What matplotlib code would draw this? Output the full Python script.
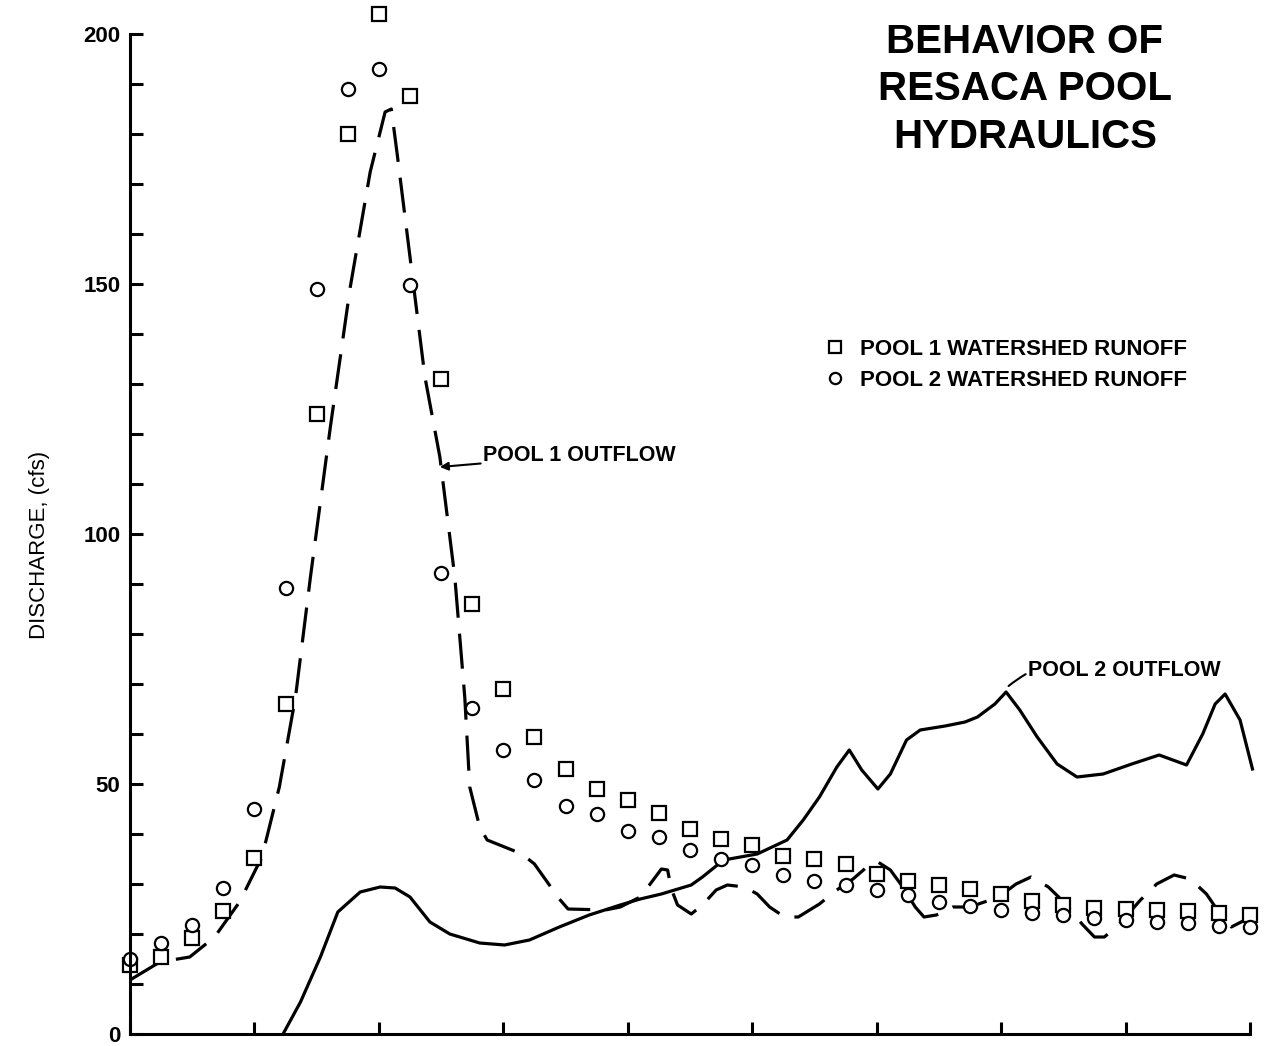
import matplotlib
matplotlib.use('Agg')
import matplotlib.pyplot as plt

# runoff points, every quarter tick from 0 to 9
runoff_x = [i * 0.25 for i in range(37)]
pool1_runoff = [13.8, 15.4, 19.2, 24.6, 35.2, 66, 124, 180, 204, 187.6, 131, 86, 69,
                59.4, 53, 49, 46.8, 44.2, 41, 39, 37.8, 35.6, 35, 34, 32, 30.6, 29.8,
                29, 28, 26.6, 25.8, 25.2, 25, 24.8, 24.6, 24.2, 23.8]
pool2_runoff = [15, 18.2, 21.8, 29.2, 45, 89.2, 149, 189, 193, 149.8, 92.2, 65.2, 56.8,
                50.8, 45.6, 44, 40.6, 39.4, 36.8, 35, 33.8, 31.8, 30.6, 29.8, 28.8, 27.8,
                26.4, 25.6, 24.8, 24.2, 23.8, 23.2, 22.8, 22.4, 22.2, 21.6, 21.4]

# pool 1 outflow (dashed)
out1_x = [0.0, 0.24, 0.48, 0.68, 0.88, 1.06, 1.2, 1.33, 1.45, 1.61, 1.77, 1.93, 2.05, 2.1,
          2.15, 2.25, 2.37, 2.49, 2.61, 2.69, 2.73, 2.81, 2.87, 3.15, 3.25, 3.45, 3.52,
          3.82, 3.94, 4.1, 4.18, 4.27, 4.32, 4.35, 4.4, 4.51, 4.6, 4.71, 4.8, 4.94, 5.04,
          5.14, 5.26, 5.37, 5.54, 5.68, 5.81, 5.94, 6.01, 6.11, 6.21, 6.31, 6.38, 6.48,
          6.61, 6.75, 6.98, 7.12, 7.24, 7.38, 7.52, 7.65, 7.75, 7.83, 7.95, 8.12, 8.25,
          8.39, 8.52, 8.65, 8.76, 8.85, 8.96, 9.02]
out1_y = [10.8, 14.4, 15.4, 19.4, 26.4, 35.4, 49.4, 67.4, 91.4, 121.4, 149.4, 172.4, 184.4,
          185, 175.4, 155.4, 131.4, 115.4, 91.4, 67.4, 49.4, 41.4, 38.8, 36, 34, 27, 25,
          24.8, 25.4, 27.4, 30, 33, 32.8, 29, 25.8, 24, 25.8, 28.8, 29.8, 29.4, 28, 25.4,
          23.4, 23.4, 26, 28.8, 31, 33.8, 34.4, 32.8, 29.4, 25.4, 23.4, 23.8, 25.4, 25.4,
          27.4, 30, 31.4, 29.4, 26, 22, 19.4, 19.4, 22, 26.8, 30, 31.8, 31, 28, 24, 21.4,
          22.8, 23.4]

# pool 2 outflow (solid)
out2_x = [1.23, 1.37, 1.53, 1.67, 1.85, 2.01, 2.13, 2.25, 2.41, 2.57, 2.81, 3.01, 3.21,
          3.45, 3.69, 3.94, 4.1, 4.27, 4.51, 4.6, 4.77, 5.04, 5.28, 5.41, 5.54, 5.68, 5.78,
          5.88, 6.01, 6.11, 6.24, 6.35, 6.55, 6.71, 6.81, 6.95, 7.04, 7.15, 7.29, 7.45,
          7.61, 7.82, 8.05, 8.27, 8.49, 8.62, 8.72, 8.8, 8.92, 9.02]
out2_y = [0, 6.4, 15.4, 24.4, 28.4, 29.4, 29.2, 27.4, 22.4, 20, 18.2, 17.8, 18.8, 21.4,
          23.8, 25.8, 27, 28, 29.8, 31.4, 34.8, 36, 38.8, 42.8, 47.4, 53.4, 56.8, 52.8, 49,
          52, 58.8, 60.8, 61.6, 62.4, 63.4, 66, 68.4, 64.8, 59.4, 54, 51.4, 52, 54, 55.8,
          53.8, 60, 66, 68, 62.8, 53]

y_ticks = list(range(0, 201, 10))
y_labels = [str(v) if v % 50 == 0 else '' for v in y_ticks]
x_ticks = list(range(0, 10))

plt.rcParams['font.family'] = ['Liberation Sans', 'DejaVu Sans']

fig = plt.figure(figsize=(12.74, 10.46), dpi=100)
ax = fig.add_axes([130 / 1274, 12 / 1046, 1120 / 1274, 1027 / 1046])

ax.plot(out1_x, out1_y, color='black', lw=2.3, linestyle=(0, (11, 5)), clip_on=False)
ax.plot(out2_x, out2_y, color='black', lw=2.3, clip_on=False)
ax.plot(runoff_x, pool1_runoff, linestyle='none', marker='s', ms=10, mfc='white',
        mec='black', mew=1.6, clip_on=False, label='POOL 1 WATERSHED RUNOFF')
ax.plot(runoff_x, pool2_runoff, linestyle='none', marker='o', ms=9.5, mfc='white',
        mec='black', mew=1.6, clip_on=False, label='POOL 2 WATERSHED RUNOFF')

ax.set_xlim(0, 9)
ax.set_ylim(0, 205.4)
for s in ['top', 'right']:
    ax.spines[s].set_visible(False)
ax.spines['left'].set_bounds(0, 200)
ax.spines['bottom'].set_bounds(0, 9)
ax.spines['left'].set_linewidth(2.2)
ax.spines['bottom'].set_linewidth(2.2)

ax.set_yticks(y_ticks)
ax.set_yticklabels(y_labels, fontsize=16, fontweight='bold')
ax.set_xticks(x_ticks)
ax.set_xticklabels([])
ax.tick_params(direction='in', length=9, width=2.2, pad=7)

fig.text(40 / 1274, 1 - 545 / 1046, 'DISCHARGE, (cfs)', rotation=90, fontsize=16,
         ha='center', va='center')

ax.annotate('POOL 1 OUTFLOW', xy=(2.49, 113.4), xytext=(2.84, 115.8), fontsize=15.5,
            fontweight='bold', va='center', ha='left',
            arrowprops=dict(arrowstyle='-|>', color='black', lw=1.5, mutation_scale=12,
                            shrinkA=0, shrinkB=0))
ax.annotate('POOL 2 OUTFLOW', xy=(7.06, 69.6), xytext=(7.22, 72.8), fontsize=15.5,
            fontweight='bold', va='center', ha='left',
            arrowprops=dict(arrowstyle='-', color='black', lw=1.5, shrinkA=0, shrinkB=0,
                            connectionstyle='arc3,rad=0.3'))

for txt, ypx in [('BEHAVIOR OF', 42), ('RESACA POOL', 89), ('HYDRAULICS', 137)]:
    fig.text(1025 / 1274, 1 - ypx / 1046, txt, fontsize=29, fontweight='bold',
             ha='center', va='center')

ax.legend(loc='center left', bbox_to_anchor=(804 / 1274, 1 - 365 / 1046),
          bbox_transform=fig.transFigure, frameon=False, handlelength=1.0,
          handletextpad=0.6, labelspacing=0.45, markerscale=0.85,
          prop={'size': 16, 'weight': 'bold'})

fig.savefig('out.png', dpi=100, facecolor='white')
